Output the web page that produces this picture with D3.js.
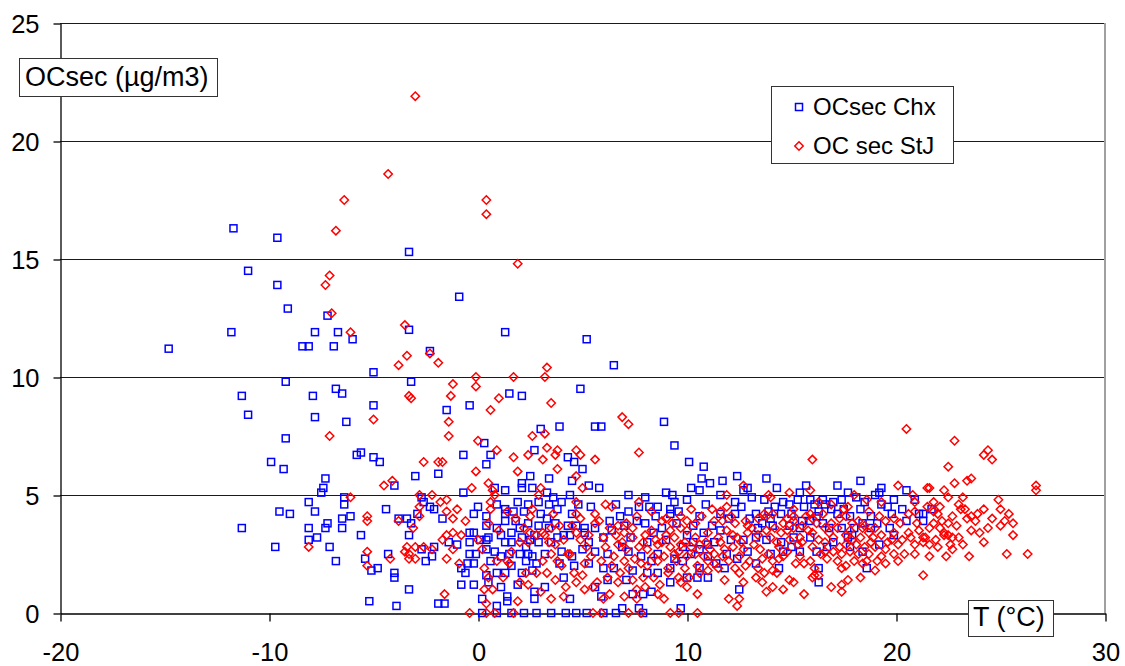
<!DOCTYPE html>
<html>
<head>
<meta charset="utf-8">
<script src="https://cdn.jsdelivr.net/npm/d3@7"></script>
<style>
    html, body { margin: 0; padding: 0; background: #fff; }
    #chart { width: 1125px; height: 666px; }
    svg text { font-family: "Liberation Sans", Arial, sans-serif; fill: #000; }
</style>
</head>
<body>
<div id="chart"></div>
<script>
// OCsec vs temperature, two sites
const xTicks = [-20, -10, 0, 10, 20, 30];
const yTicks = [0, 5, 10, 15, 20, 25];
const seriesNames = ["OCsec Chx", "OC sec StJ"];
const yTitle = "OCsec (µg/m3)";
const xTitle = "T (°C)";

// [T, OCsec]
const chx = [
    [-14.8,11.2],[-11.7,16.3],[-11.8,11.9],[-11.3,9.2],[-11.0,8.4],[-11.0,14.5],[-11.3,3.6],
    [-9.6,15.9],[-9.6,13.9],[-9.1,12.9],[-9.2,9.8],[-9.2,7.4],[-9.3,6.1],[-9.9,6.4],[-9.7,2.8],[-9.5,4.3],[-9.0,4.2],
    [-3.3,15.3],[-3.3,12.0],[-7.2,12.6],[-7.8,11.9],[-6.7,11.9],[-8.4,11.3],[-8.1,11.3],[-6.0,11.6],[-6.9,11.3],
    [-6.8,9.5],[-6.5,9.3],[-7.9,9.2],[-7.8,8.3],[-6.3,8.1],[-5.0,10.2],[-5.0,8.8],[-3.2,9.8],
    [-5.0,6.6],[-4.7,6.4],[-5.8,6.7],[-5.6,6.8],
    [-0.9,13.4],[1.3,11.9],[5.2,11.6],[6.5,10.5],[4.9,9.5],[1.5,9.3],[2.1,9.2],[-2.3,11.1],
    [8.9,8.1],[9.4,7.1],[10.1,6.4],[10.8,6.2],[10.7,5.7],[11.1,5.5],[10.2,5.3],[10.6,5.2],[11.7,5.6],[12.4,5.8],
    [5.8,5.3],[5.9,7.9],[4.6,6.4],[3.0,7.8],[3.9,7.9],[5.6,7.9],[0.3,7.2],[2.7,6.9],[-0.7,6.7],[0.6,6.7],[4.3,6.6],[0.4,6.3],[5.0,6.1],
    [3.4,5.7],[2.5,5.8],[2.1,5.5],[2.6,5.3],[2.1,5.3],[4.5,5.6],[5.3,5.4],[-0.7,5.1],[1.3,5.2],[0.8,5.3],[3.3,5.1],[4.4,5.0],
    [-1.5,8.6],[-0.4,8.8],
    [-3.0,5.8],[-1.9,5.9],[-4.0,5.4],[-7.3,5.7],[-7.4,5.3],[-7.5,5.1],[-6.4,4.9],[-6.4,4.6],[-8.1,4.7],[-7.8,4.3],
    [-8.1,3.6],[-7.3,3.6],[-7.2,3.8],[-6.5,4.0],[-6.5,3.6],[-6.1,4.1],[-4.4,4.4],[-5.6,3.3],[-7.7,3.2],[-8.1,3.1],[-7.1,2.8],[-6.8,2.2],
    [-3.8,4.0],[-3.4,4.0],[-3.2,3.8],[-3.3,3.3],[-2.7,4.9],[-2.6,4.7],[-2.3,4.5],[-2.1,4.4],[-2.9,4.2],
    [-5.4,2.3],[-5.1,1.8],[-4.8,1.9],[-4.3,2.5],[-2.7,2.7],[-2.1,2.8],[-2.5,2.2],[-2.2,2.4],[-4.0,1.7],[-4.0,1.5],[-3.3,1.0],[-5.2,0.5],[-3.9,0.3],[-1.9,0.4],
    [-1.7,4.0],[-0.2,4.2],[0.4,4.1],[1.3,4.4],[1.3,4.2],[1.9,4.7],[2.4,4.6],[2.9,4.7],[3.4,4.6],[3.8,4.4],[4.5,4.2],[5.1,3.6],
    [0.4,3.7],[1.3,3.9],[1.8,3.9],[2.4,3.8],[2.9,3.7],[3.3,4.0],[3.7,3.8],[4.3,3.7],[5.6,3.6],
    [-0.4,3.4],[-0.2,3.4],[0.5,3.2],[1.6,3.4],[2.1,3.2],[2.5,3.1],[2.7,3.3],[4.1,3.3],[4.4,3.3],[5.1,3.4],
    [-1.4,3.0],[-1.0,2.9],[-0.4,3.0],[0.4,3.1],[1.3,3.0],[1.6,3.0],[2.3,2.8],[2.9,3.0],
    [-0.4,2.5],[-0.1,2.5],[0.8,2.6],[1.1,2.4],[2.0,2.5],[2.6,2.4],[3.2,2.5],[4.5,2.4],[5.6,2.6],
    [-0.2,2.1],[0.6,2.2],[0.9,1.7],[1.6,2.0],[2.3,2.2],[2.8,2.1],[3.9,2.1],
    [-0.8,1.9],[-0.6,1.7],[0.4,1.6],[1.3,1.7],[2.1,1.7],[2.6,1.8],[4.1,1.5],
    [-0.8,1.2],[-0.2,1.2],[0.5,1.3],[1.1,1.1],[1.9,1.2],[2.7,0.9],[3.2,1.1],[4.4,0.6],[5.6,1.1],
    [0.2,0.6],[1.4,0.7],[1.4,0.5],[2.7,0.6],[-1.6,0.4],[0.9,0.3],
    [0.2,0],[0.9,0],[1.6,0],[2.2,0],[2.8,0],[3.5,0],[4.2,0],[4.7,0],[5.2,0],[6.0,0],[6.6,0],[7.9,0],
    [5.9,0.7],[6.9,0.2],[7.7,0.2],[9.7,0.2],
    [0.0,4.5],[0.9,4.6],[1.7,4.3],[2.2,4.3],[3.0,4.2],[3.6,4.9],[4.0,4.7],[4.8,4.6],[5.4,4.5],[0.1,3.1],[0.9,3.6],[1.1,3.3],
    [2.0,3.6],[3.4,3.6],[3.8,3.2],[4.7,3.7],[5.3,3.0],[0.4,2.7],[1.5,2.5],[2.4,2.5],[3.5,3.0],[4.0,2.6],[5.0,2.7],[5.3,2.1],[-0.5,2.1],[4.6,2.0],
    [7.2,5.0],[8.0,4.9],[9.0,5.1],[9.3,5.0],[9.4,4.7],[8.2,4.5],[8.6,4.5],[7.7,4.5],[7.2,4.3],[9.2,4.4],[9.2,4.2],[8.5,4.1],[6.8,4.1],[6.3,3.9],
    [11.6,5.0],[12.7,5.2],[12.9,5.3],[13.1,4.9],[12.3,4.7],[12.3,4.2],[11.6,4.2],[13.3,4.2],
    [8.0,3.8],[8.8,3.6],[9.5,3.8],[10.3,3.7],[10.8,3.4],[10.0,3.3],[6.4,3.5],[7.3,3.2],[6.0,3.2],[8.1,3.0],[9.0,3.1],[9.8,2.8],[10.6,2.7],[11.3,3.0],[12.7,3.1],[13.3,3.2],
    [6.2,2.5],[6.9,2.8],[7.8,2.4],[8.6,2.5],[9.4,2.3],[10.2,2.5],[11.0,2.4],[11.9,2.5],[12.9,2.6],
    [6.0,1.9],[6.5,1.9],[7.4,1.8],[8.1,1.7],[8.6,1.7],[9.2,1.9],[10.6,1.9],[11.8,1.9],[13.3,2.1],
    [6.2,1.4],[7.1,1.4],[7.4,0.8],[7.9,0.8],[8.3,0.9],[9.2,1.3],[10.0,1.5],[10.5,1.5],[11.0,1.5],[12.5,1.0],
    [6.6,4.6],[7.0,3.7],[7.6,3.9],[8.4,3.4],[9.6,4.3],[10.0,4.8],[10.6,4.1],[10.9,4.6],[11.2,3.7],[11.6,3.5],[12.0,4.0],[12.6,4.5],
    [13.0,4.0],[13.4,3.6],[12.1,3.1],[11.0,2.9],[10.3,3.0],[7.2,2.6],[8.3,2.2],[9.8,2.2],[11.4,2.1],[12.4,2.3],
    [13.8,5.7],[14.3,5.3],[15.7,5.4],[17.2,5.4],[18.3,5.6],[19.3,5.3],[20.5,5.2],[15.4,5.1],[15.3,4.8],[14.9,4.6],[14.2,4.5],[13.7,4.8],
    [16.5,4.8],[16.6,4.6],[16.1,4.6],[17.4,4.8],[17.7,5.1],[18.1,4.9],[19.0,5.0],[19.2,5.1],[20.9,4.8],
    [13.9,4.3],[14.5,4.2],[15.6,4.5],[16.3,4.3],[16.9,4.4],[17.2,4.2],[17.8,4.1],[18.3,4.4],[18.8,4.1],[19.6,4.5],[19.8,4.2],[21.1,4.2],
    [13.6,3.8],[14.1,3.7],[15.4,3.6],[15.9,3.9],[16.5,3.8],[17.4,3.6],[18.8,3.6],[19.7,3.6],[19.9,3.3],
    [13.8,3.1],[14.5,3.0],[15.1,3.2],[15.9,3.2],[17.0,3.0],[17.7,3.2],[18.0,3.6],
    [14.0,2.5],[14.6,2.6],[15.4,2.6],[16.2,2.6],[17.8,2.8],[14.4,1.9],[16.3,1.9],[18.6,1.9],[16.3,1.3],
    [14.0,4.0],[14.6,4.7],[15.0,4.2],[15.9,4.8],[16.2,4.1],[17.0,4.7],[17.5,4.4],[18.5,4.7],[19.3,4.6],[19.9,4.8],[20.3,4.4],
    [14.9,3.7],[15.5,3.9],[16.8,3.6],[17.9,3.3],[18.4,3.8],[19.1,3.8],[20.5,3.9],[15.0,2.8],[16.7,2.8],[18.4,2.6],[19.2,2.9],
    [21.3,4.2],[21.3,3.9],[21.7,4.4]
];

const stj = [
    [-3.0,21.9],[-4.3,18.6],[-6.4,17.5],[-6.8,16.2],[-7.1,14.3],[-7.3,13.9],[-7.0,12.7],[-3.5,12.2],[-3.4,10.9],[-3.8,10.5],[-3.3,9.2],[-3.2,9.1],[-6.1,11.9],[-5.0,8.2],[-7.1,7.5],[-2.3,11.0],[-1.9,10.6],
    [0.4,17.5],[0.4,16.9],[1.9,14.8],[1.7,10.0],[3.3,10.4],[3.2,10.0],[-0.1,10.0],[-1.2,9.7],[-1.3,9.2],[1.0,9.1],[-0.1,9.6],[0.6,8.6],[3.5,8.9],
    [-1.4,8.1],[-1.4,7.5],[0.0,7.3],[2.6,7.5],[3.2,7.6],[0.9,6.9],[1.7,6.6],[2.4,6.7],[3.3,7.0],[3.8,6.9],[3.7,6.7],[4.7,6.9],[4.9,6.7],[5.6,6.5],[3.1,6.5],
    [-1.7,6.4],[-0.1,6.0],[1.9,6.0],[3.8,6.1],[4.7,5.8],[-0.3,5.3],[0.5,5.5],[0.7,5.2],[3.0,5.3],[5.0,5.3],[2.9,5.0],[4.7,4.7],[-1.5,4.8],[-1.8,4.7],[0.6,4.7],[0.8,5.0],
    [-1.0,4.4],[-1.5,4.3],[0.6,4.4],[-1.2,4.0],[-0.6,3.9],[1.4,4.3],[1.8,4.0],[2.5,4.1],[2.6,4.4],[3.6,4.2],[4.7,4.2],[4.9,4.0],[5.6,4.2],
    [0.5,3.8],[-1.2,3.4],[-0.8,3.3],[-1.5,3.3],[2.5,3.4],[3.5,3.6],[3.1,3.4],[3.9,3.7],[4.7,3.4],[5.6,3.8],
    [2.0,3.0],[2.4,3.0],[2.8,3.3],[3.2,3.3],[3.7,2.9],[4.3,2.5],[4.9,3.1],[5.2,2.8],[-1.7,3.1],[-1.2,2.7],[0.0,3.1],[0.2,2.7],
    [0.9,2.2],[1.4,2.2],[1.5,2.1],[3.1,2.2],[3.5,2.5],[4.0,2.0],[4.4,2.5],[5.1,2.1],[-0.9,2.1],[-1.5,2.3],[0.3,1.9],[0.5,1.5],
    [2.3,1.7],[2.8,1.7],[3.3,1.7],[3.7,1.4],[4.2,1.1],[4.7,1.3],[5.7,1.3],[0.3,1.0],[0.7,1.0],[2.4,1.2],[3.0,0.9],[4.1,0.7],[5.1,1.0],[5.5,1.1],
    [-1.6,0.8],[1.9,0.5],[3.5,0.6],[0.4,0.4],[-0.4,0],[0.4,0],[0.8,0],[1.7,0],[5.5,0],
    [1.0,3.5],[1.6,2.6],[2.2,3.6],[3.4,3.0],[4.1,3.1],[4.5,3.7],[5.3,3.3],[5.4,2.4],[1.2,1.5],[2.0,1.3],[4.6,1.7],[5.0,1.6],[3.8,2.2],
    [-2.6,6.4],[-1.9,6.4],[-4.5,5.4],[-4.1,5.6],[-6.1,4.9],[-5.3,4.1],[-5.3,3.9],[-3.8,3.9],[-3.1,3.6],[-2.8,5.0],[-2.2,5.0],[-2.8,4.5],[-2.8,4.1],
    [-8.1,2.8],[-5.3,2.6],[-5.3,2.0],[-4.2,2.3],[-3.4,2.8],[-3.5,2.6],[-3.3,2.5],[-3.0,2.8],[-2.6,2.8],[-2.2,2.7],[-3.3,2.3],[-3.0,2.3],
    [6.9,8.3],[7.2,8.0],[7.7,6.8],[12.7,5.4],[11.9,5.0],[7.7,4.7],[6.1,4.6],[6.4,4.5],[11.9,4.5],[11.2,4.4],[10.2,4.4],[9.7,4.1],[10.7,4.1],[7.6,4.1],
    [5.8,3.9],[6.7,3.7],[7.1,3.8],[8.8,3.9],[9.3,3.8],[9.7,3.6],[11.3,3.9],[11.7,3.9],[12.3,3.8],[12.8,3.9],[13.4,4.0],
    [6.0,3.2],[6.6,3.3],[7.0,3.4],[7.4,3.2],[8.0,3.3],[8.5,3.1],[9.0,3.3],[9.4,3.2],[9.9,3.0],[10.4,3.2],[11.0,3.4],[11.5,3.2],[11.9,3.5],[12.4,3.2],[12.9,3.4],[13.4,3.3],
    [6.1,2.8],[6.7,2.9],[7.1,2.7],[7.7,2.8],[8.1,2.7],[8.6,2.9],[9.2,2.8],[9.7,2.9],[10.2,2.8],[10.6,2.9],[11.1,2.7],[11.6,3.0],[12.2,2.8],[12.7,2.7],[13.2,2.9],
    [5.9,2.2],[6.5,2.4],[7.0,2.2],[7.5,2.3],[8.1,2.0],[8.6,2.2],[9.1,1.9],[9.5,2.2],[10.0,2.4],[10.5,2.0],[11.0,2.2],[11.5,1.9],[12.0,2.2],[12.5,2.4],[13.0,2.2],
    [6.8,1.7],[7.4,1.4],[7.9,1.5],[8.4,1.5],[9.1,1.7],[9.6,1.5],[10.1,1.5],[10.6,1.7],[11.0,1.8],[11.8,1.4],[12.5,1.7],[12.7,1.3],[13.3,1.5],
    [6.2,1.5],[6.7,1.3],[7.6,1.0],[8.0,1.1],[8.7,1.2],[9.7,1.3],[10.0,1.1],[10.5,0.8],[8.6,0.8],[8.9,0.6],[7.0,0.7],[6.3,0.8],[7.6,0.6],[6.0,0.6],[12.0,0.6],[12.5,0.6],[12.4,0.3],
    [9.2,0],[9.6,0],[10.5,0],[5.9,0],[7.2,0],[7.8,0],
    [6.3,3.6],[6.9,3.0],[7.4,3.6],[7.9,3.0],[8.3,3.5],[8.8,3.0],[9.2,3.5],[9.6,2.6],[10.0,3.5],[10.4,2.5],[10.9,3.0],[11.3,2.5],[11.8,2.7],[12.2,3.3],[12.6,3.0],[13.1,3.6],[13.5,2.7],
    [6.4,2.0],[7.2,1.9],[7.8,2.1],[8.4,2.4],[8.9,2.4],[9.4,2.5],[9.9,1.9],[10.8,2.4],[11.3,2.1],[11.7,2.4],[12.3,1.9],[12.8,2.0],[13.4,1.9],
    [8.3,4.3],[9.0,4.0],[10.0,3.9],[10.4,3.8],[11.6,4.3],[12.1,4.1],[12.9,3.7],[13.8,4.1],
    [20.5,7.8],[16.0,6.5],[20.1,5.4],[14.9,5.1],[15.9,5.2],[18.0,5.0],[18.6,4.8],[20.8,5.0],[20.9,4.7],[13.9,5.0],[14.0,4.9],[20.9,4.3],[20.6,4.2],[19.3,4.7],[17.7,4.5],[17.5,4.4],[16.9,4.6],[16.3,4.7],[15.1,4.4],[15.1,4.1],[15.9,4.2],[13.7,4.2],[14.1,4.2],[18.7,4.3],[19.2,4.1],
    [20.2,3.8],[21.0,3.8],[20.6,3.4],[21.1,3.5],[19.9,3.4],[19.8,3.1],[20.1,2.9],[20.9,2.9],[20.9,2.5],[20.1,2.2],[19.5,2.1],[19.1,2.2],[19.0,1.8],[18.3,1.5],[17.7,1.4],[17.4,1.2],[17.4,0.9],[16.9,1.1],[15.6,0.8],[15.1,1.3],[14.9,1.4],[14.6,1.0],[14.1,1.1],[13.8,0.9],[13.6,1.3],[16.0,1.5],[16.1,1.6],[16.3,1.6],[13.7,1.7],[14.1,1.8],[14.3,1.7],
    [15.2,2.1],[15.6,2.1],[16.1,1.9],[17.4,1.9],[17.6,2.0],[18.0,2.2],[18.4,2.1],[18.7,2.5],[19.0,2.8],[18.5,2.8],[18.1,2.9],[18.2,2.5],[17.4,2.5],[17.2,2.2],[16.7,2.3],[16.4,2.5],[15.9,2.2],[14.6,2.4],[14.1,2.2],[13.9,2.5],[13.6,2.3],
    [14.4,2.8],[14.9,3.1],[15.3,2.9],[15.4,3.2],[15.8,3.5],[16.2,3.8],[16.5,4.2],[16.9,3.8],[17.2,3.6],[16.8,3.4],[17.6,3.3],[17.9,3.1],[17.6,2.9],[16.3,3.1],[14.5,3.4],[14.0,3.2],[13.8,3.5],[14.2,3.6],[15.1,3.6],[14.6,3.8],
    [19.0,3.6],[18.7,3.4],[18.3,3.2],[18.8,3.0],[19.5,2.7],[19.9,2.5],[20.7,3.2],[17.6,4.1],[18.2,3.9],[15.7,4.1],[15.1,3.9],
    [14.3,3.0],[14.8,3.5],[15.5,3.0],[16.0,3.4],[16.6,3.0],[17.0,3.2],[17.3,2.8],[17.8,3.5],[18.4,3.6],[18.9,3.2],[19.3,3.3],[19.6,3.0],[20.3,3.1],
    [14.4,2.3],[14.8,2.6],[15.4,2.4],[16.0,2.8],[16.6,2.6],[17.0,2.6],[17.8,2.6],[18.6,2.2],[19.3,2.4],[20.4,2.5],
    [14.8,4.0],[15.5,3.7],[16.0,4.0],[16.6,3.6],[17.3,4.0],[17.9,3.8],[18.5,3.7],[19.5,3.9],[19.9,4.0],
    [22.8,7.3],[24.2,6.7],[24.4,6.9],[24.6,6.5],[22.5,6.2],[23.4,5.6],[23.6,5.7],[22.8,5.5],[21.5,5.3],[21.6,5.3],[22.3,5.2],[22.5,4.9],[23.2,4.9],[26.7,5.4],[26.7,5.2],[24.9,4.8],
    [22.1,4.5],[23.0,4.6],[23.1,4.4],[21.8,4.7],[21.5,4.5],[21.8,4.3],[22.0,4.2],[24.2,4.4],[25.0,4.4],[25.4,4.2],[23.9,4.2],[22.7,4.1],[23.4,4.0],[23.6,4.1],[23.8,3.9],[25.2,3.9],[25.0,3.7],[25.6,3.8],[24.4,3.6],
    [22.2,3.9],[22.5,3.8],[22.1,3.6],[21.6,3.6],[22.3,3.4],[22.5,3.3],[23.6,3.5],[24.0,3.4],[25.6,3.3],[22.3,3.3],[22.7,3.2],[21.3,3.2],[21.4,3.2],[21.3,3.0],[21.6,2.9],[23.2,2.9],[22.7,2.7],[22.4,2.4],[23.5,2.4],[25.3,2.5],[26.3,2.5],[21.3,1.6],
    [21.9,3.1],[22.0,2.8],[21.8,3.8],[22.9,3.7],[23.0,3.2],[24.2,3.0],[24.6,4.0],[23.3,4.4],[21.6,2.4],[22.6,2.9]
];

(() => {
    const W = 1125, H = 666;
    const m = { top: 23, right: 20, bottom: 53, left: 60 };

    const svg = d3.select("#chart").append("svg").attr("width", W).attr("height", H);

    const x = d3.scaleLinear().domain([-20, 30]).range([m.left, W - m.right]);
    const y = d3.scaleLinear().domain([0, 25]).range([H - m.bottom, m.top]);

    // horizontal gridlines
    svg.append("g").selectAll("line")
        .data(yTicks.filter(d => d > 0))
        .join("line")
        .attr("x1", x(-20)).attr("x2", x(30))
        .attr("y1", d => y(d) + 0.5).attr("y2", d => y(d) + 0.5)
        .attr("stroke", "#1a1a1a").attr("stroke-width", 1.2);

    // right border
    svg.append("line")
        .attr("x1", x(30)).attr("x2", x(30))
        .attr("y1", y(25)).attr("y2", y(0))
        .attr("stroke", "#a0a0a0").attr("stroke-width", 2);

    const fmt = d => String(d);  // plain hyphen minus like the original
    const yAxis = svg.append("g")
        .attr("transform", `translate(${x(-20) + 0.5},0.5)`)
        .call(d3.axisLeft(y).tickValues(yTicks).tickFormat(fmt).tickSizeInner(7).tickSizeOuter(0).tickPadding(14));

    const xAxis = svg.append("g")
        .attr("transform", `translate(0.5,${y(0) + 0.5})`)
        .call(d3.axisBottom(x).tickValues(xTicks).tickFormat(fmt).tickSizeInner(8).tickSizeOuter(0).tickPadding(21));

    [yAxis, xAxis].forEach(a => {
        a.selectAll("path, line").attr("stroke", "#000").attr("stroke-width", 1.3);
        a.selectAll("text").style("font-size", "25.5px").attr("fill", "#000");
    });
    yAxis.selectAll("text").attr("dy", "0.35em");

    // points
    const sq = 7, dm = 4.2, sw = 1.5;
    svg.append("g").selectAll("rect")
        .data(chx)
        .join("rect")
        .attr("x", d => x(d[0]) - sq / 2)
        .attr("y", d => y(d[1]) - sq / 2)
        .attr("width", sq).attr("height", sq)
        .attr("fill", "none").attr("stroke", "#0000ff").attr("stroke-width", sw);

    const diamond = (cx, cy) => `M${cx},${cy - dm}L${cx + dm},${cy}L${cx},${cy + dm}L${cx - dm},${cy}Z`;
    svg.append("g").selectAll("path")
        .data(stj)
        .join("path")
        .attr("d", d => diamond(x(d[0]), y(d[1])))
        .attr("fill", "none").attr("stroke", "#ff0000").attr("stroke-width", sw);

    // boxed axis titles
    const boxLabel = (bx, by, bw, bh, text, tx, ty) => {
        svg.append("rect").attr("x", bx).attr("y", by).attr("width", bw).attr("height", bh)
            .attr("fill", "#fff").attr("stroke", "#333").attr("stroke-width", 1);
        svg.append("text").attr("x", tx).attr("y", ty).style("font-size", "27px").text(text);
    };
    boxLabel(19.5, 58.5, 198, 38, yTitle, 25, 86);
    boxLabel(968.5, 600.5, 85, 36, xTitle, 973, 626);

    // legend
    const lg = svg.append("g");
    lg.append("rect").attr("x", 771.5).attr("y", 86.5).attr("width", 182).attr("height", 77)
        .attr("fill", "#fff").attr("stroke", "#333").attr("stroke-width", 1);
    lg.append("rect").attr("x", 799 - sq / 2).attr("y", 107 - sq / 2).attr("width", sq).attr("height", sq)
        .attr("fill", "none").attr("stroke", "#0000ff").attr("stroke-width", sw);
    lg.append("path").attr("d", diamond(799, 146))
        .attr("fill", "none").attr("stroke", "#ff0000").attr("stroke-width", sw);
    lg.selectAll("text")
        .data(seriesNames)
        .join("text")
        .attr("x", 813)
        .attr("y", (d, i) => 115 + i * 39)
        .style("font-size", "24px")
        .text(d => d);
})();
</script>
</body>
</html>
